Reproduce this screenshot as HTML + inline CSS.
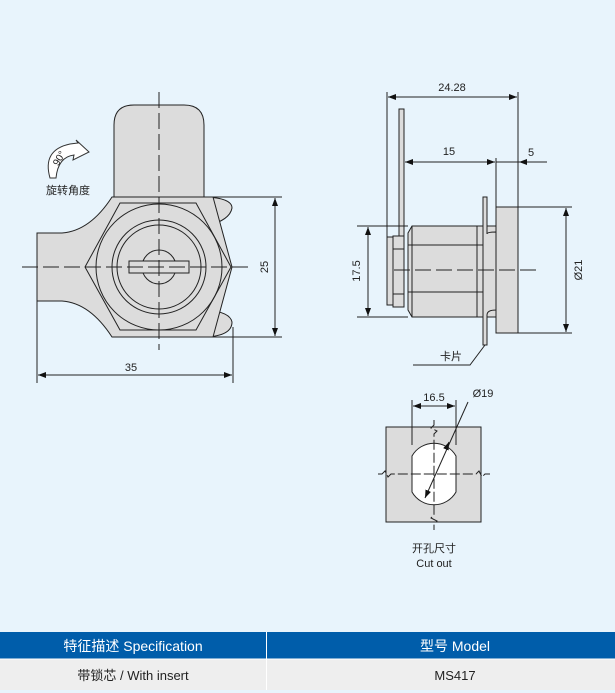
<!DOCTYPE html>
<html><head><meta charset="utf-8"><style>
body{margin:0;background:#e8f4fc;}
svg{display:block}
text{font-family:"Liberation Sans","Noto Sans CJK SC",sans-serif;fill:#222}
</style></head><body>
<svg width="615" height="693" viewBox="0 0 615 693" xmlns="http://www.w3.org/2000/svg">
<defs>
<marker id="a" markerWidth="8" markerHeight="6" refX="8" refY="3" orient="auto-start-reverse" markerUnits="userSpaceOnUse"><path d="M0,0 L8,3 L0,6 Z" fill="#111"/></marker>
</defs>
<rect width="615" height="693" fill="#e8f4fc"/>
<g stroke="#222" stroke-width="1" fill="#dcdcdc">
<path d="M114,197 V125 Q114,105 134,105 H184 Q204,105 204,125 V197"/>
<path d="M205,197 Q232,198 232,208 Q230,220 207,226 Z"/>
<path d="M207,310 Q230,312 232,322 Q232,336 205,337 Z"/>
<path d="M112,197 H213 L232,267 L213,337 H112 Q90,303 62,301 H37 V233 H62 Q90,231 112,197 Z"/>
<polygon points="120,203 196,203 231,267 196,330 120,330 85,267"/>
<circle cx="159" cy="267" r="63" fill="none"/>
<circle cx="159" cy="267" r="47" fill="none"/>
<circle cx="159" cy="267" r="42" fill="none"/>
<circle cx="159" cy="267" r="17" fill="none"/>
<rect x="129" y="261" width="60" height="12" fill="#dcdcdc"/>
</g>
<g stroke="#222" stroke-width="1" fill="none">
<line x1="159" y1="92" x2="159" y2="350" stroke-dasharray="16,5"/>
<line x1="22" y1="267" x2="250" y2="267" stroke-dasharray="16,5"/>
<line x1="213" y1="197" x2="282" y2="197"/><line x1="213" y1="337" x2="282" y2="337"/>
<line x1="275" y1="198" x2="275" y2="336" marker-start="url(#a)" marker-end="url(#a)"/>
<line x1="37" y1="301" x2="37" y2="383"/><line x1="233" y1="327" x2="233" y2="383"/>
<line x1="38" y1="375" x2="232" y2="375" marker-start="url(#a)" marker-end="url(#a)"/>
</g>
<text x="131" y="371" font-size="11" text-anchor="middle">35</text>
<text transform="translate(268,267) rotate(-90)" font-size="11" text-anchor="middle">25</text>
<path d="M50,178 Q42,150 70,144 L78,143 L76,140 L89,152 L73,160 L74,155 Q58,157 56,178 Z" fill="#fff" stroke="#333" stroke-width="1"/>
<text transform="translate(62,160) rotate(-60)" font-size="10" text-anchor="middle">90°</text>
<text x="68" y="194" font-size="11" text-anchor="middle">旋转角度</text>

<g stroke="#222" stroke-width="1" fill="#dcdcdc">
<rect x="496" y="207" width="22" height="126"/>
<path d="M412,226 H496 V317 H412 L408,310 V233 Z"/>
<line x1="408" y1="245" x2="496" y2="245"/><line x1="408" y1="292" x2="496" y2="292"/>
<line x1="412" y1="226" x2="412" y2="317"/><line x1="477" y1="226" x2="477" y2="317"/>
<rect x="387" y="237" width="6" height="68"/>
<rect x="393" y="236" width="11" height="71"/>
<line x1="393" y1="249" x2="404" y2="249"/><line x1="393" y1="294" x2="404" y2="294"/>
<rect x="399" y="109" width="5" height="127"/>
<path d="M483,197 H487 V234 Q487,232 496,232 V310 Q487,310 487,315 V345 H483 Z"/>
</g>
<g stroke="#222" stroke-width="1" fill="none">
<line x1="394" y1="270" x2="537" y2="270" stroke-dasharray="16,5"/>
<line x1="387" y1="92" x2="387" y2="237"/><line x1="518" y1="92" x2="518" y2="333"/>
<line x1="388" y1="97" x2="517" y2="97" marker-start="url(#a)" marker-end="url(#a)"/>
<line x1="496" y1="158" x2="496" y2="207"/>
<line x1="405" y1="162" x2="495" y2="162" marker-start="url(#a)" marker-end="url(#a)"/>
<line x1="496" y1="162" x2="547" y2="162"/>
<line x1="540" y1="162" x2="519" y2="162" marker-end="url(#a)"/>
<line x1="518" y1="207" x2="572" y2="207"/><line x1="518" y1="333" x2="572" y2="333"/>
<line x1="566" y1="208" x2="566" y2="332" marker-start="url(#a)" marker-end="url(#a)"/>
<line x1="357" y1="226" x2="408" y2="226"/><line x1="357" y1="317" x2="408" y2="317"/>
<line x1="368" y1="227" x2="368" y2="316" marker-start="url(#a)" marker-end="url(#a)"/>
<polyline points="413,365 470,365 485,345"/>
</g>
<text x="452" y="91" font-size="11" text-anchor="middle">24.28</text>
<text x="449" y="155" font-size="11" text-anchor="middle">15</text>
<text x="531" y="156" font-size="11" text-anchor="middle">5</text>
<text transform="translate(582,270) rotate(-90)" font-size="11" text-anchor="middle">Ø21</text>
<text transform="translate(360,271) rotate(-90)" font-size="11" text-anchor="middle">17.5</text>
<text x="451" y="360" font-size="11" text-anchor="middle">卡片</text>

<g stroke="#222" stroke-width="1">
<rect x="386" y="427" width="95" height="95" fill="#dcdcdc"/>
<path d="M412,456 A25.3,25.3 0 0 1 456,456 V492 A25.3,25.3 0 0 1 412,492 Z" fill="#fff"/>
</g>
<g stroke="#222" stroke-width="1" fill="none">
<polyline points="434,420 434,425 431,428 437,431 434,434 434,515 431,518 437,521 434,524 434,530" stroke-dasharray="10,3"/>
<polyline points="378,474 382,474 385,471 388,477 391,474 476,474 479,471 482,477 485,474 490,474" stroke-dasharray="10,3"/>
<line x1="412" y1="400" x2="412" y2="445"/><line x1="456" y1="400" x2="456" y2="445"/>
<line x1="413" y1="406" x2="455" y2="406" marker-start="url(#a)" marker-end="url(#a)"/>
<line x1="468" y1="402" x2="425" y2="498" marker-end="url(#a)"/>
<line x1="446" y1="449" x2="449" y2="442" marker-end="url(#a)"/>
</g>
<text x="434" y="401" font-size="11" text-anchor="middle">16.5</text>
<text x="483" y="397" font-size="11" text-anchor="middle">Ø19</text>
<text x="434" y="552" font-size="11" text-anchor="middle">开孔尺寸</text>
<text x="434" y="567" font-size="11" text-anchor="middle">Cut out</text>

<rect x="0" y="632" width="615" height="27" fill="#005daa"/>
<rect x="0" y="659" width="615" height="31" fill="#eeeeee"/>
<line x1="266.5" y1="632" x2="266.5" y2="690" stroke="#fff" stroke-width="1"/>
<line x1="0" y1="659" x2="615" y2="659" stroke="#fff" stroke-width="1"/>
<text x="133" y="651" font-size="14" text-anchor="middle" style="fill:#fff">特征描述 Specification</text>
<text x="455" y="651" font-size="14" text-anchor="middle" style="fill:#fff">型号 Model</text>
<text x="133" y="680" font-size="13" text-anchor="middle">带锁芯 / With insert</text>
<text x="455" y="680" font-size="13" text-anchor="middle">MS417</text>
</svg>
</body></html>
